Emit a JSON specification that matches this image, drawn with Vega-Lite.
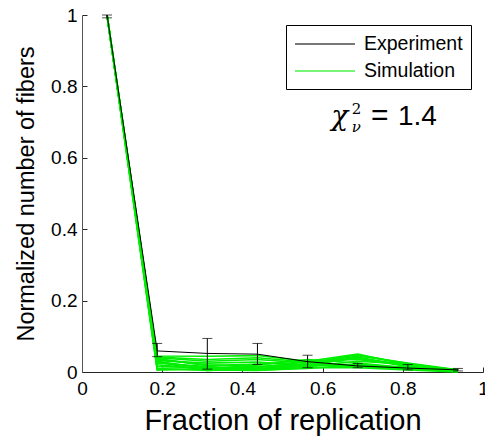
{
  "$schema": "https://vega.github.io/schema/vega-lite/v6.json",
  "width": 401,
  "height": 357,
  "autosize": {"type": "none"},
  "padding": {"left": 82, "top": 15, "right": 2, "bottom": 66},
  "config": {
    "view": {"stroke": null},
    "font": "Liberation Sans",
    "axis": {
      "grid": false,
      "domainColor": "#262626",
      "tickColor": "#262626",
      "tickSize": -5,
      "labelFontSize": 19,
      "labelColor": "#000000",
      "labelFlush": false,
      "labelOverlap": false,
      "titleColor": "#000000",
      "titleFontWeight": "normal",
      "titleFont": "Liberation Sans",
      "labelFont": "Liberation Sans"
    }
  },
  "datasets": {
    "exp": [
      {"x": 0.0625, "y": 1.0, "lo": 0.992, "hi": 1.0},
      {"x": 0.1875, "y": 0.059, "lo": 0.043, "hi": 0.080},
      {"x": 0.3125, "y": 0.052, "lo": 0.008, "hi": 0.094},
      {"x": 0.4375, "y": 0.050, "lo": 0.021, "hi": 0.080},
      {"x": 0.5625, "y": 0.029, "lo": 0.012, "hi": 0.047},
      {"x": 0.6875, "y": 0.017, "lo": 0.012, "hi": 0.024},
      {"x": 0.8125, "y": 0.011, "lo": 0.006, "hi": 0.021},
      {"x": 0.9375, "y": 0.006, "lo": 0.003, "hi": 0.010}
    ],
    "sim": [
      {"x": 0.0625, "s1": 1, "s2": 1, "s3": 0.998, "s4": 1, "s5": 0.997, "s6": 1, "s7": 0.999, "s8": 1, "s9": 0.998, "s10": 1, "s11": 0.999, "s12": 1, "s13": 0.997, "s14": 1},
      {"x": 0.1875, "s1": 0.045, "s2": 0.040, "s3": 0.035, "s4": 0.030, "s5": 0.025, "s6": 0.020, "s7": 0.015, "s8": 0.010, "s9": 0.032, "s10": 0.008, "s11": 0.038, "s12": 0.028, "s13": 0.005, "s14": 0.042},
      {"x": 0.3125, "s1": 0.044, "s2": 0.030, "s3": 0.020, "s4": 0.010, "s5": 0.015, "s6": 0.008, "s7": 0.012, "s8": 0.005, "s9": 0.025, "s10": 0.006, "s11": 0.018, "s12": 0.004, "s13": 0.010, "s14": 0.035},
      {"x": 0.4375, "s1": 0.046, "s2": 0.035, "s3": 0.015, "s4": 0.012, "s5": 0.008, "s6": 0.020, "s7": 0.005, "s8": 0.010, "s9": 0.028, "s10": 0.004, "s11": 0.022, "s12": 0.015, "s13": 0.006, "s14": 0.040},
      {"x": 0.5625, "s1": 0.030, "s2": 0.025, "s3": 0.020, "s4": 0.030, "s5": 0.015, "s6": 0.035, "s7": 0.010, "s8": 0.020, "s9": 0.018, "s10": 0.012, "s11": 0.026, "s12": 0.022, "s13": 0.016, "s14": 0.028},
      {"x": 0.6875, "s1": 0.050, "s2": 0.045, "s3": 0.040, "s4": 0.035, "s5": 0.030, "s6": 0.025, "s7": 0.020, "s8": 0.015, "s9": 0.042, "s10": 0.012, "s11": 0.048, "s12": 0.018, "s13": 0.022, "s14": 0.038},
      {"x": 0.8125, "s1": 0.020, "s2": 0.025, "s3": 0.015, "s4": 0.018, "s5": 0.022, "s6": 0.012, "s7": 0.010, "s8": 0.008, "s9": 0.016, "s10": 0.006, "s11": 0.024, "s12": 0.014, "s13": 0.009, "s14": 0.020},
      {"x": 0.9375, "s1": 0.004, "s2": 0.006, "s3": 0.002, "s4": 0.005, "s5": 0.003, "s6": 0.007, "s7": 0.001, "s8": 0.004, "s9": 0.002, "s10": 0.000, "s11": 0.005, "s12": 0.003, "s13": 0.002, "s14": 0.006}
    ]
  },
  "layer": [
    {
      "data": {"name": "sim"},
      "transform": [{"fold": ["s1", "s2", "s3", "s4", "s5", "s6", "s7", "s8", "s9", "s10", "s11", "s12", "s13", "s14"], "as": ["run", "v"]}],
      "mark": {"type": "line", "strokeWidth": 1.6},
      "encoding": {
        "x": {"field": "x", "type": "quantitative", "scale": {"domain": [0, 1], "nice": false},
              "axis": {"values": [0, 0.2, 0.4, 0.6, 0.8, 1], "format": "~g", "title": "Fraction of replication", "titleFontSize": 29, "labelPadding": 12, "titlePadding": 8}},
        "y": {"field": "v", "type": "quantitative", "scale": {"domain": [0, 1], "nice": false},
              "axis": {"values": [0, 0.2, 0.4, 0.6, 0.8, 1], "format": "~g", "title": "Normalized number of fibers", "titleFontSize": 23.5, "labelPadding": 10, "titlePadding": 12, "domainColor": "#555555"}},
        "detail": {"field": "run"},
        "color": {"datum": "Simulation", "type": "nominal",
                  "scale": {"domain": ["Experiment", "Simulation"], "range": ["#000000", "#00ee00"]},
                  "legend": {"title": null, "orient": "none", "legendX": 204, "legendY": 10, "strokeColor": "#000000", "fillColor": "#ffffff", "padding": 8, "symbolType": "M-1,0H5", "symbolSize": 400, "symbolStrokeWidth": 1.3, "symbolOpacity": 1, "labelFontSize": 19.5, "labelFont": "Liberation Sans", "labelColor": "#000000", "labelOffset": 48, "rowPadding": 6, "cornerRadius": 0}}
      }
    },
    {
      "data": {"name": "exp"},
      "mark": {"type": "rule", "strokeWidth": 1},
      "encoding": {
        "x": {"field": "x", "type": "quantitative"},
        "y": {"field": "lo", "type": "quantitative"},
        "y2": {"field": "hi"},
        "color": {"datum": "Experiment", "type": "nominal"}
      }
    },
    {
      "data": {"name": "exp"},
      "transform": [{"fold": ["lo", "hi"], "as": ["end", "ev"]}],
      "mark": {"type": "tick", "orient": "horizontal", "size": 10, "thickness": 1},
      "encoding": {
        "x": {"field": "x", "type": "quantitative"},
        "y": {"field": "ev", "type": "quantitative"},
        "color": {"datum": "Experiment", "type": "nominal"}
      }
    },
    {
      "data": {"name": "exp"},
      "mark": {"type": "line", "strokeWidth": 1},
      "encoding": {
        "x": {"field": "x", "type": "quantitative"},
        "y": {"field": "y", "type": "quantitative"},
        "color": {"datum": "Experiment", "type": "nominal"}
      }
    },
    {
      "data": {"values": [{}]},
      "mark": {"type": "text", "text": "χ", "font": "DejaVu Serif", "fontStyle": "italic", "fontSize": 28, "align": "center", "baseline": "alphabetic"},
      "encoding": {"x": {"datum": 0.643, "type": "quantitative"}, "y": {"datum": 0.692, "type": "quantitative"}}
    },
    {
      "data": {"values": [{}]},
      "mark": {"type": "text", "text": "2", "font": "DejaVu Serif", "fontSize": 15, "align": "left", "baseline": "alphabetic"},
      "encoding": {"x": {"datum": 0.673, "type": "quantitative"}, "y": {"datum": 0.724, "type": "quantitative"}}
    },
    {
      "data": {"values": [{}]},
      "mark": {"type": "text", "text": "ν", "font": "DejaVu Serif", "fontStyle": "italic", "fontSize": 15, "align": "left", "baseline": "alphabetic"},
      "encoding": {"x": {"datum": 0.673, "type": "quantitative"}, "y": {"datum": 0.672, "type": "quantitative"}}
    },
    {
      "data": {"values": [{}]},
      "mark": {"type": "text", "text": "=", "font": "Liberation Sans", "fontSize": 30, "align": "left", "baseline": "alphabetic"},
      "encoding": {"x": {"datum": 0.721, "type": "quantitative"}, "y": {"datum": 0.692, "type": "quantitative"}}
    },
    {
      "data": {"values": [{}]},
      "mark": {"type": "text", "text": "1.4", "font": "Liberation Sans", "fontSize": 28, "align": "left", "baseline": "alphabetic"},
      "encoding": {"x": {"datum": 0.788, "type": "quantitative"}, "y": {"datum": 0.692, "type": "quantitative"}}
    }
  ]
}
